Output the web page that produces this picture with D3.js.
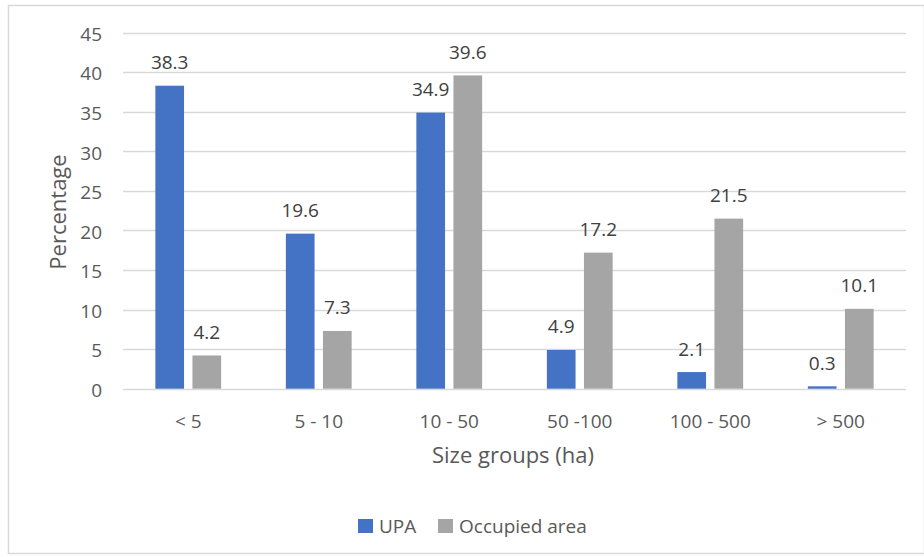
<!DOCTYPE html>
<html>
<head>
<meta charset="utf-8">
<script src="https://cdn.jsdelivr.net/npm/d3@7"></script>
<style>
  html, body { margin: 0; padding: 0; background: #fff; }
  svg { display: block; font-family: "Open Sans", Lato, sans-serif; }
</style>
</head>
<body>
<svg id="chart" width="924" height="557"></svg>
<script>
// Farm size groups and their shares (%)
const categories = ["< 5", "5 - 10", "10 - 50", "50 -100", "100 - 500", "> 500"];
const upaValues = [38.3, 19.6, 34.9, 4.9, 2.1, 0.3];
const areaValues = [4.2, 7.3, 39.6, 17.2, 21.5, 10.1];
const seriesNames = ["UPA", "Occupied area"];
const seriesColors = ["#4472c4", "#a5a5a5"];
const yTicks = [0, 5, 10, 15, 20, 25, 30, 35, 40, 45];

const svg = d3.select("#chart");
const W = 924, H = 557;

// Outer chart frame
svg.append("rect")
  .attr("x", 8.5).attr("y", 5.5)
  .attr("width", W - 8).attr("height", H - 9)
  .attr("fill", "#fff").attr("stroke", "#d9d9d9").attr("stroke-width", 1.5);

const plot = { left: 123, right: 906, top: 32.7, bottom: 388.7 };

const x = d3.scaleBand().domain(categories)
  .range([plot.left, plot.right]).paddingInner(0).paddingOuter(0);
const y = d3.scaleLinear().domain([0, 45]).range([plot.bottom, plot.top]);

const barW = 28.7, gap = 8.4;
const xs = d3.scaleOrdinal().domain([0, 1])
  .range([-(gap / 2) - barW, gap / 2]);

// Gridlines
svg.append("g")
  .selectAll("line").data(yTicks).join("line")
  .attr("x1", plot.left).attr("x2", plot.right)
  .attr("y1", d => Math.round(y(d)) + 0.5).attr("y2", d => Math.round(y(d)) + 0.5)
  .attr("stroke", "#d9d9d9").attr("stroke-width", 1.5);

// Y axis labels
const yAxis = d3.axisLeft(y).tickValues(yTicks).tickSize(0).tickPadding(0);
const gy = svg.append("g").attr("transform", `translate(${plot.left - 21},1)`).call(yAxis);
gy.select(".domain").remove();
gy.selectAll("text").attr("fill", "#595959").attr("font-size", 19)
  .attr("font-family", "'Open Sans', sans-serif").attr("dy", "0.35em");

// X axis labels
const xAxis = d3.axisBottom(x).tickSize(0).tickPadding(0);
const gx = svg.append("g").attr("transform", `translate(0,${plot.bottom + 39})`).call(xAxis);
gx.select(".domain").remove();
gx.selectAll("text").attr("fill", "#595959").attr("font-size", 19)
  .attr("font-family", "'Open Sans', sans-serif").attr("dy", "0");

// Bars
const series = [upaValues, areaValues];
series.forEach((vals, si) => {
  const g = svg.append("g");
  g.selectAll("rect").data(vals).join("rect")
    .attr("x", (d, i) => x(categories[i]) + x.bandwidth() / 2 + xs(si))
    .attr("y", d => y(d))
    .attr("width", barW)
    .attr("height", d => y(0) - y(d))
    .attr("fill", seriesColors[si]);
  g.selectAll("text").data(vals).join("text")
    .attr("x", (d, i) => x(categories[i]) + x.bandwidth() / 2 + xs(si) + barW / 2)
    .attr("y", d => y(d) - 16.5)
    .attr("text-anchor", "middle")
    .attr("fill", "#404040").attr("font-size", 19)
    .text(d => d.toFixed(1));
});

// Axis titles
svg.append("text")
  .attr("transform", `translate(66,212) rotate(-90)`)
  .attr("text-anchor", "middle").attr("fill", "#595959").attr("font-size", 22)
  .text("Percentage");
svg.append("text")
  .attr("x", 513).attr("y", 463)
  .attr("text-anchor", "middle").attr("fill", "#595959").attr("font-size", 22)
  .text("Size groups (ha)");

// Legend
const legendItems = [
  { name: seriesNames[0], color: seriesColors[0], x: 358 },
  { name: seriesNames[1], color: seriesColors[1], x: 438 }
];
const lg = svg.append("g");
legendItems.forEach(it => {
  lg.append("rect").attr("x", it.x).attr("y", 519).attr("width", 15).attr("height", 14).attr("fill", it.color);
  lg.append("text").attr("x", it.x + 21).attr("y", 533).attr("fill", "#595959").attr("font-size", 19).text(it.name);
});
</script>
</body>
</html>
